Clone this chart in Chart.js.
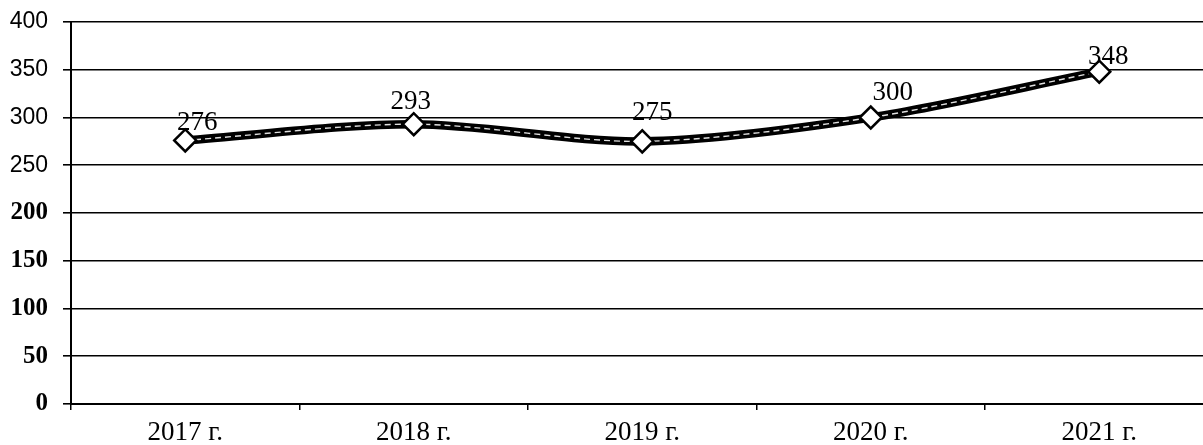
<!DOCTYPE html>
<html>
<head>
<meta charset="utf-8">
<script src="https://cdn.jsdelivr.net/npm/chart.js@4/dist/chart.umd.min.js"></script>
<style>
  html, body { margin: 0; padding: 0; background: #fff; overflow: hidden; }
  #wrap { position: relative; width: 1227px; height: 445px; }
</style>
</head>
<body>
<div id="wrap"><canvas id="c" width="1227" height="445"></canvas></div>
<script>
const categories = ['2017 г.', '2018 г.', '2019 г.', '2020 г.', '2021 г.'];
const values = [276, 293, 275, 300, 348];
const yTicks = [0, 50, 100, 150, 200, 250, 300, 350, 400];
// label nudges (px) relative to each point: [dx, dy]
const labelNudge = [[12, -18], [-3, -22], [10, -28], [22, -25], [9, -15]];

const labelPlugin = {
  id: 'valueLabels',
  afterDatasetsDraw(chart) {
    const meta = chart.getDatasetMeta(2);
    const ctx = chart.ctx;
    ctx.save();
    ctx.font = '27px "Liberation Serif", "Times New Roman", serif';
    ctx.fillStyle = '#000';
    ctx.textAlign = 'center';
    ctx.textBaseline = 'middle';
    meta.data.forEach((pt, i) => {
      const n = labelNudge[i];
      ctx.fillText(String(values[i]), pt.x + n[0], pt.y + n[1]);
    });
    ctx.restore();
  }
};

new Chart(document.getElementById('c'), {
  type: 'line',
  data: {
    labels: categories,
    datasets: [
      {
        data: values,
        borderColor: '#000',
        borderWidth: 8.5,
        tension: 0.3,
        pointRadius: 0,
        fill: false,
        order: 3
      },
      {
        data: values,
        borderColor: '#e0e0e0',
        borderWidth: 1.4,
        borderDash: [6, 4],
        tension: 0.3,
        pointRadius: 0,
        fill: false,
        order: 2
      },
      {
        data: values,
        showLine: false,
        pointStyle: 'rectRot',
        pointRadius: 11,
        pointBorderWidth: 2.5,
        pointBorderColor: '#000',
        pointBackgroundColor: '#fff',
        order: 1
      }
    ]
  },
  options: {
    responsive: false,
    animation: false,
    layout: { padding: { top: 22, right: 0, left: 0, bottom: 0 } },
    plugins: {
      legend: { display: false },
      tooltip: { enabled: false }
    },
    scales: {
      x: {
        offset: true,
        grid: {
          offset: true,
          drawOnChartArea: false,
          drawTicks: true,
          tickLength: 6,
          color: '#000',
          lineWidth: 1.5
        },
        border: { display: true, color: '#000', width: 2 },
        ticks: {
          color: '#000',
          padding: 7,
          maxRotation: 0,
          font: { family: '"Liberation Serif", "Times New Roman", serif', size: 27 }
        },
        afterFit(scale) { scale.height = 41; }
      },
      y: {
        min: 0,
        max: 400,
        afterBuildTicks(scale) { scale.ticks = yTicks.map(v => ({ value: v })); },
        grid: {
          color: '#000',
          lineWidth: 1.6,
          tickLength: 8,
          drawTicks: true
        },
        border: { display: true, color: '#000', width: 2 },
        ticks: {
          color: '#000',
          padding: 15,
          font: (ctx) => (ctx.tick && ctx.tick.value >= 250)
            ? { family: '"Liberation Sans", Arial, sans-serif', size: 23, weight: 'normal' }
            : { family: '"Liberation Serif", "Times New Roman", serif', size: 25, weight: 'bold' }
        },
        afterFit(scale) { scale.width = 71; scale.paddingTop = 0; scale.paddingBottom = 0; }
      }
    }
  },
  plugins: [labelPlugin]
});
</script>
</body>
</html>
